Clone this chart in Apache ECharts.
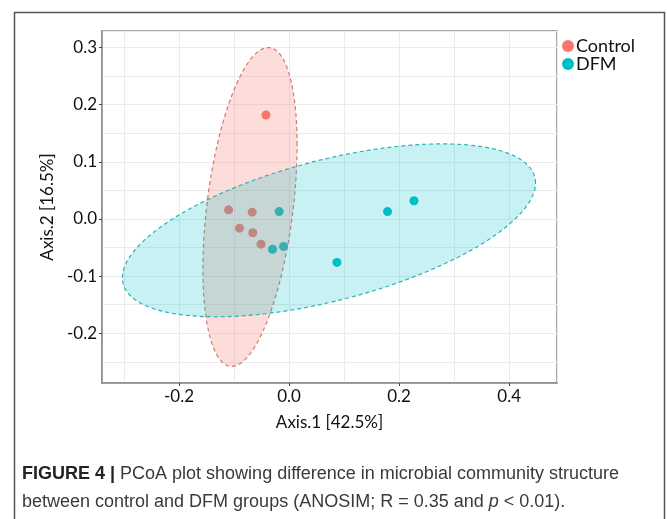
<!DOCTYPE html>
<html>
<head>
<meta charset="utf-8">
<script src="https://cdn.jsdelivr.net/npm/echarts@6/dist/echarts.min.js"></script>
<style>
  html, body { margin: 0; padding: 0; background: #fff; }
  #main { width: 667px; height: 519px; }
</style>
</head>
<body>
<div id="main"></div>
<script>
// PCoA scores
const controlX = [-0.042, -0.110, -0.067, -0.090, -0.066, -0.051];
const controlY = [0.182, 0.016, 0.012, -0.016, -0.024, -0.044];
const dfmX = [-0.018, -0.030, -0.010, 0.087, 0.179, 0.227];
const dfmY = [0.013, -0.053, -0.048, -0.076, 0.013, 0.032];

const groups = ['Control', 'DFM'];
const colors = ['#F8766D', '#00BFC4'];
const fills = ['rgba(248,118,109,0.25)', 'rgba(0,191,196,0.22)'];
const strokes = ['#d0797a', '#2bb3b6'];

const xMin = -0.34, xMax = 0.487;
const yMin = -0.287, yMax = 0.329;

// 95% confidence ellipse from the group covariance (like stat_ellipse)
const ellipse = (xs, ys, level) => {
  const n = xs.length;
  const mx = xs.reduce((a, b) => a + b, 0) / n;
  const my = ys.reduce((a, b) => a + b, 0) / n;
  let sxx = 0, syy = 0, sxy = 0;
  for (let i = 0; i < n; i++) {
    sxx += (xs[i] - mx) ** 2;
    syy += (ys[i] - my) ** 2;
    sxy += (xs[i] - mx) * (ys[i] - my);
  }
  sxx /= n - 1; syy /= n - 1; sxy /= n - 1;
  const dfd = n - 1;
  const f = dfd / 2 * (Math.pow(1 - level, -2 / dfd) - 1); // qf(level, 2, dfd)
  const r = Math.sqrt(2 * f);
  const a = Math.sqrt(sxx), b = sxy / a, c = Math.sqrt(syy - b * b);
  const pts = [];
  for (let k = 0; k <= 120; k++) {
    const t = k / 120 * Math.PI * 2;
    const u = Math.cos(t), v = Math.sin(t);
    pts.push([mx + r * a * u, my + r * (b * u + c * v)]);
  }
  return pts;
};

const ellipses = [ellipse(controlX, controlY, 0.95), ellipse(dfmX, dfmY, 0.95)];
const pointsOf = (xs, ys) => xs.map((x, i) => [x, ys[i]]);
const points = [pointsOf(controlX, controlY), pointsOf(dfmX, dfmY)];

const myChart = echarts.init(document.getElementById('main'));

const tickFont = { fontFamily: 'Lato', fontSize: 17, color: '#111' };
const gridLine = { show: true, lineStyle: { color: '#ebebeb', width: 1 } };

const scatterSeries = groups.map((g, i) => ({
  name: g,
  type: 'scatter',
  xAxisIndex: 0,
  yAxisIndex: 0,
  data: points[i],
  symbolSize: 9,
  itemStyle: { color: colors[i], opacity: 1 },
  z: 2
}));

const ellipseSeries = groups.map((g, i) => ({
  type: 'custom',
  xAxisIndex: 0,
  yAxisIndex: 0,
  data: [0],
  silent: true,
  z: 3 + i,
  renderItem: (params, api) => ({
    type: 'polygon',
    shape: { points: ellipses[i].map(p => api.coord(p)) },
    style: {
      fill: fills[i],
      stroke: strokes[i],
      lineWidth: 1.2,
      lineDash: [4, 3]
    }
  })
}));

const option = {
  backgroundColor: '#ffffff',
  animation: false,
  title: {
    left: 22,
    top: 460,
    padding: 0,
    text: '{b|FIGURE 4 |} PCoA plot showing difference in microbial community structure\nbetween control and DFM groups (ANOSIM; R = 0.35 and {i|p} < 0.01).',
    textStyle: {
      fontFamily: 'Liberation Sans',
      fontSize: 18,
      fontWeight: 'normal',
      color: '#3a3a3a',
      lineHeight: 28,
      rich: {
        b: { fontFamily: 'Liberation Sans', fontSize: 18, fontWeight: 'bold', color: '#222', lineHeight: 28 },
        i: { fontFamily: 'Liberation Sans', fontSize: 18, fontStyle: 'italic', color: '#3a3a3a', lineHeight: 28 }
      }
    }
  },
  graphic: [{
    type: 'rect',
    left: 12,
    top: 10,
    shape: { width: 650, height: 530 },
    style: { fill: 'none', stroke: '#555', lineWidth: 1.5 },
    silent: true
  }],
  legend: {
    data: groups,
    orient: 'vertical',
    left: 557,
    top: 32,
    icon: 'circle',
    itemWidth: 12,
    itemHeight: 12,
    itemGap: 0,
    textStyle: { fontFamily: 'Lato', fontSize: 18, lineHeight: 18, color: '#111', padding: [0, 0, 0, -3] }
  },
  grid: {
    left: 102,
    top: 31,
    right: 110,
    bottom: 136,
    show: true,
    backgroundColor: '#fff',
    borderColor: '#8a8a8a',
    borderWidth: 1.5
  },
  xAxis: [{
    type: 'value',
    min: xMin,
    max: xMax,
    splitNumber: 4,
    name: 'Axis.1 [42.5%]',
    nameLocation: 'middle',
    nameGap: 31,
    nameTextStyle: { fontFamily: 'Lato', fontSize: 17, color: '#111' },
    axisLine: { show: true, onZero: false, lineStyle: { color: '#8a8a8a', width: 1.5 } },
    axisTick: { show: true, length: 3, lineStyle: { color: '#444' } },
    axisLabel: Object.assign({ margin: 5, showMinLabel: false, showMaxLabel: false, formatter: v => v.toFixed(1) }, tickFont),
    splitLine: { show: false }
  }, {
    type: 'value',
    min: xMin,
    max: xMax,
    splitNumber: 8,
    position: 'bottom',
    axisLine: { show: false },
    axisTick: { show: false },
    axisLabel: { show: false },
    splitLine: gridLine
  }],
  yAxis: [{
    type: 'value',
    min: yMin,
    max: yMax,
    splitNumber: 6,
    name: 'Axis.2 [16.5%]',
    nameLocation: 'middle',
    nameGap: 42,
    nameTextStyle: { fontFamily: 'Lato', fontSize: 17, color: '#111' },
    axisLine: { show: true, onZero: false, lineStyle: { color: '#8a8a8a', width: 1.5 } },
    axisTick: { show: true, length: 3, lineStyle: { color: '#444' } },
    axisLabel: Object.assign({ margin: 5, showMinLabel: false, showMaxLabel: false, formatter: v => v.toFixed(1) }, tickFont),
    splitLine: { show: false }
  }, {
    type: 'value',
    min: yMin,
    max: yMax,
    splitNumber: 12,
    position: 'left',
    axisLine: { show: false },
    axisTick: { show: false },
    axisLabel: { show: false },
    splitLine: gridLine
  }],
  series: scatterSeries.concat(ellipseSeries)
};

myChart.setOption(option);
</script>
</body>
</html>
